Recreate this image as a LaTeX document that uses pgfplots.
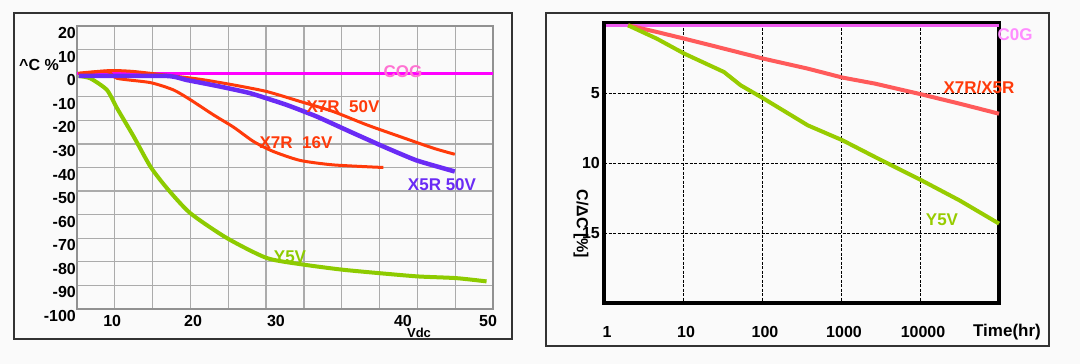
\documentclass[border=0pt]{standalone}
\usepackage{pgfplots}
\pgfplotsset{compat=1.18}
\usepackage{fontspec}
\setmainfont{Liberation Sans}
\definecolor{xsevr}{HTML}{FF3A0A}
\definecolor{xfive}{HTML}{6A2BF5}
\definecolor{yfive}{HTML}{8DCB00}
\definecolor{cog}{HTML}{FF00FF}
\definecolor{coglab}{HTML}{FF72D2}
\definecolor{rred}{HTML}{FF5A5A}
\definecolor{rgreen}{HTML}{97CC00}
\definecolor{rmag}{HTML}{EE5CEE}
\definecolor{rmaglab}{HTML}{FF8CFF}
\definecolor{framec}{HTML}{333333}
\definecolor{gridc}{HTML}{ABABAB}
\definecolor{bg}{HTML}{FAFAFA}
\begin{document}
\begin{tikzpicture}[font=\bfseries]
\fill[bg] (0pt,0pt) rectangle (1080pt,364pt);
\path[use as bounding box] (0pt,0pt) rectangle (1080pt,364pt);
\draw[framec, line width=2pt] (14pt,25pt) rectangle (512pt,351pt);
\draw[framec, line width=2pt] (546pt,18pt) rectangle (1049pt,351pt);

% ---------------- left panel ----------------
\begin{axis}[
  at={(77pt,55pt)}, anchor=south west, scale only axis,
  width=416pt, height=283pt,
  xmin=0, xmax=11, ymin=-100, ymax=20,
  xtick={0.93,3.07,5.26,8.62,10.87}, xticklabels={10,20,30,40,50},
  minor xtick={0,1,...,11}, xminorgrids=true, xmajorgrids=false,
  ytick={-100,-90,...,20},
  yticklabels={-100,-90,-80,-70,-60,-50,-40,-30,-20,-10,0,10,20},
  ymajorgrids=true,
  major tick length=0pt, minor tick length=0pt,
  grid style={gridc, line width=1.2pt},
  minor grid style={gridc, line width=1.2pt},
  axis line style={gridc!85!black, line width=1.2pt},
  tick label style={font=\fontsize{16}{16}\selectfont\bfseries, text=black},
  xticklabel style={anchor=center, yshift=-12pt},
  yticklabel style={anchor=east, inner xsep=1pt, yshift=-7pt},
  /pgf/number format/assume math mode=true,
  clip=false
]
\addplot[cog, line width=2.7pt] coordinates {(0,0) (11,0)};
\addplot[yfive, line width=4pt, smooth, tension=0.4] coordinates {
 (0.04,-1.2) (0.35,-2.2) (0.79,-7.1) (1.06,-14.9) (1.50,-26.9) (1.94,-39.6)
 (2.38,-48.8) (2.99,-59.3) (3.96,-69.9) (5.02,-78.4) (6.00,-81.2) (7.00,-83.3)
 (7.99,-84.8) (9.02,-86.2) (10.02,-86.9) (10.83,-88.3)};
\addplot[xsevr, line width=3pt, smooth, tension=0.4] coordinates {
 (0.04,-0.3) (0.79,0.8) (1.06,-2.2) (1.94,-4.0) (2.55,-7.1) (3.0,-11.3)
 (3.61,-17.7) (4.14,-22.9) (4.67,-29.0) (5.19,-33.2) (5.90,-37.0) (6.78,-38.9)
 (8.10,-40.0)};
\addplot[xsevr, line width=3pt, smooth, tension=0.4] coordinates {
 (0.04,0) (0.88,1.1) (1.50,0.7) (2.38,-0.9) (3.26,-2.6) (4.14,-5.0) (5.02,-7.8)
 (5.90,-12.0) (6.78,-16.3) (7.66,-21.9) (8.54,-26.9) (9.42,-31.8) (9.99,-34.4)};
\addplot[xfive, line width=4.5pt, smooth, tension=0.3] coordinates {
 (0.04,-1.2) (2.38,-1.2) (2.90,-2.9) (3.70,-5.4) (4.58,-8.5) (5.55,-13.5)
 (6.34,-18.4) (7.22,-24.8) (8.10,-31.1) (8.98,-37.0) (9.99,-41.7)};
\end{axis}
\node[font=\fontsize{16}{16}\selectfont\bfseries] at (39pt,299pt) {\textasciicircum C \%};
\node[font=\fontsize{13}{13}\selectfont\bfseries] at (419pt,31pt) {Vdc};
\node[coglab, font=\fontsize{17}{17}\selectfont\bfseries] at (403pt,292pt) {COG};
\node[xsevr, font=\fontsize{17}{17}\selectfont\bfseries] at (343pt,257pt) {X7R\ \ 50V};
\node[xsevr, font=\fontsize{17}{17}\selectfont\bfseries] at (296pt,221pt) {X7R\ \ 16V};
\node[xfive, font=\fontsize{17}{17}\selectfont\bfseries] at (442pt,179pt) {X5R 50V};
\node[yfive, font=\fontsize{17}{17}\selectfont\bfseries] at (290pt,107pt) {Y5V};

% ---------------- right panel ----------------
\begin{axis}[
  at={(604pt,61pt)}, anchor=south west, scale only axis,
  width=395pt, height=280pt,
  xmode=log, xmin=1, xmax=100000, ymin=0, ymax=20, y dir=reverse,
  xtick={1,10,100,1000,10000}, xticklabels={1,10,100,1000,10000},
  ytick={5,10,15}, yticklabels={5,10,15},
  grid=major, grid style={black, line width=0.7pt, dash pattern=on 3pt off 1.5pt},
  major tick length=0pt, minor tick length=0pt,
  axis line style={black, line width=4pt},
  tick label style={font=\fontsize{16}{16}\selectfont\bfseries, text=black},
  xticklabel style={anchor=center, yshift=-29pt, xshift=3pt},
  yticklabel style={anchor=east, inner xsep=1pt, xshift=-3pt},
  /pgf/number format/assume math mode=true,
  clip=false
]
\addplot[rmag, line width=3pt] coordinates {(1.05,0.17) (100000,0.17)};
\addplot[rred, line width=4pt] coordinates {
 (2.02,0.17) (4.66,0.64) (10.4,1.12) (33,1.83) (105,2.55) (380,3.26)
 (1047,3.9) (2692,4.33) (10470,5.1) (31620,5.76) (100000,6.48)};
\addplot[rgreen, line width=4pt] coordinates {
 (2.02,0.17) (4.66,1.12) (10.4,2.19) (33,3.5) (53.7,4.45) (105,5.4) (380,7.31)
 (1047,8.38) (2692,9.57) (10470,11.24) (31620,12.67) (100000,14.33)};
\end{axis}
\node[rotate=-90, font=\fontsize{16}{16}\selectfont\bfseries] at (581pt,140pt) {C/ΔC [\%]};
\node[font=\fontsize{17}{17}\selectfont\bfseries] at (1007pt,32pt) {Time(hr)};
\node[rmaglab, font=\fontsize{17}{17}\selectfont\bfseries] at (1015pt,329pt) {C0G};
\node[xsevr, font=\fontsize{17}{17}\selectfont\bfseries] at (979pt,276pt) {X7R/X5R};
\node[rgreen, font=\fontsize{17}{17}\selectfont\bfseries] at (942pt,144pt) {Y5V};
\end{tikzpicture}
\end{document}
